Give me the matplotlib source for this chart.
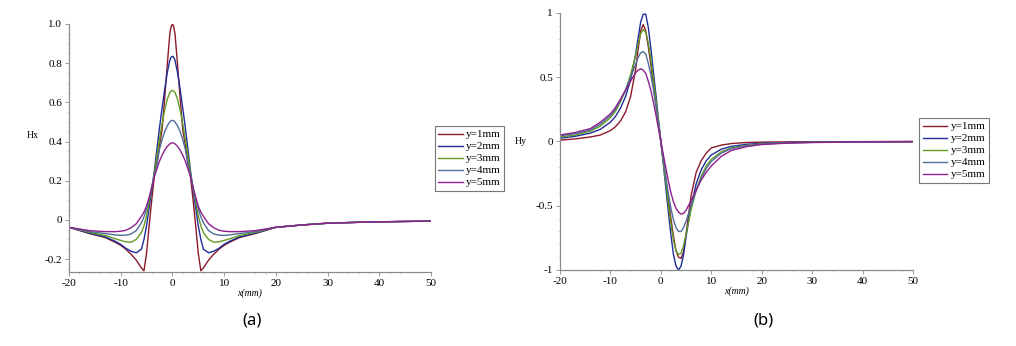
import matplotlib
matplotlib.use("Agg")
import matplotlib.pyplot as plt

# ── Data: Hx (left panel) ─────────────────────────────────────────────────────
X_HX = [-20, -16, -13, -11, -10, -9, -8, -7, -6, -5.5, -5, -4.5, -4, -3.5, -3,
        -2.5, -2, -1.5, -1, -0.5, -0.25, 0, 0.25, 0.5, 1, 1.5, 2, 2.5, 3, 3.5,
        4, 4.5, 5, 5.5, 6, 7, 8, 9, 10, 11, 13, 16, 20, 25, 30, 35, 40, 45, 50]

HX_Y1 = [-0.038, -0.07, -0.09, -0.115, -0.13, -0.15, -0.175, -0.205, -0.245, -0.26,
         -0.17, -0.03, 0.10, 0.22, 0.30, 0.38, 0.46, 0.62, 0.79, 0.95, 0.987, 1.0,
         0.987, 0.95, 0.79, 0.62, 0.46, 0.38, 0.30, 0.22, 0.10, -0.03, -0.17, -0.26,
         -0.245, -0.205, -0.175, -0.15, -0.13, -0.115, -0.09, -0.07, -0.038,
         -0.026, -0.017, -0.013, -0.010, -0.008, -0.006]
HX_Y2 = [-0.038, -0.068, -0.087, -0.11, -0.125, -0.145, -0.16, -0.168, -0.15, -0.10,
         -0.03, 0.06, 0.15, 0.25, 0.36, 0.47, 0.57, 0.665, 0.75, 0.815, 0.83, 0.835,
         0.83, 0.815, 0.75, 0.665, 0.57, 0.47, 0.36, 0.25, 0.15, 0.06, -0.03, -0.10,
         -0.15, -0.168, -0.16, -0.145, -0.125, -0.11, -0.087, -0.068, -0.038,
         -0.026, -0.017, -0.013, -0.010, -0.008, -0.006]
HX_Y3 = [-0.038, -0.064, -0.08, -0.097, -0.105, -0.112, -0.114, -0.10, -0.065, -0.03,
         0.02, 0.09, 0.16, 0.235, 0.33, 0.41, 0.49, 0.56, 0.615, 0.65, 0.658, 0.661,
         0.658, 0.65, 0.615, 0.56, 0.49, 0.41, 0.33, 0.235, 0.16, 0.09, 0.02, -0.03,
         -0.065, -0.10, -0.114, -0.112, -0.105, -0.097, -0.08, -0.064, -0.038,
         -0.026, -0.017, -0.013, -0.010, -0.008, -0.006]
HX_Y4 = [-0.038, -0.06, -0.07, -0.077, -0.079, -0.078, -0.072, -0.055, -0.015, 0.015,
         0.055, 0.11, 0.17, 0.225, 0.28, 0.36, 0.41, 0.45, 0.48, 0.50, 0.506, 0.508,
         0.506, 0.50, 0.48, 0.45, 0.41, 0.36, 0.28, 0.225, 0.17, 0.11, 0.055, 0.015,
         -0.015, -0.055, -0.072, -0.078, -0.079, -0.077, -0.07, -0.06, -0.038,
         -0.026, -0.017, -0.013, -0.010, -0.008, -0.006]
HX_Y5 = [-0.038, -0.055, -0.06, -0.06, -0.058, -0.053, -0.04, -0.02, 0.018, 0.04,
         0.07, 0.115, 0.16, 0.22, 0.26, 0.30, 0.33, 0.355, 0.375, 0.388, 0.392, 0.393,
         0.392, 0.388, 0.375, 0.355, 0.33, 0.30, 0.26, 0.22, 0.16, 0.115, 0.07, 0.04,
         0.018, -0.02, -0.04, -0.053, -0.058, -0.06, -0.06, -0.055, -0.038,
         -0.026, -0.017, -0.013, -0.010, -0.008, -0.006]

# ── Data: Hy (right panel) ────────────────────────────────────────────────────
X_HY = [-20, -17, -14, -12, -10, -9, -8, -7, -6, -5, -4.5, -4, -3.5, -3, -2.5,
        -2, -1.5, -1, -0.5, 0, 0.5, 1, 1.5, 2, 2.5, 3, 3.5, 4, 4.5, 5, 6, 7, 8,
        9, 10, 12, 14, 17, 20, 25, 30, 40, 50]

HY_Y1 = [0.01, 0.02, 0.035, 0.05, 0.085, 0.115, 0.16, 0.23, 0.35, 0.56, 0.72,
         0.86, 0.91, 0.86, 0.74, 0.60, 0.45, 0.30, 0.15, 0.0, -0.15, -0.30,
         -0.45, -0.60, -0.74, -0.85, -0.90, -0.91, -0.86, -0.72, -0.42, -0.24,
         -0.15, -0.09, -0.05, -0.028, -0.016, -0.008, -0.005, -0.003, -0.002,
         -0.001, 0.0]
HY_Y2 = [0.025, 0.04, 0.065, 0.095, 0.15, 0.195, 0.26, 0.35, 0.48, 0.68, 0.81,
         0.93, 0.99, 0.99, 0.89, 0.73, 0.55, 0.37, 0.18, 0.0, -0.18, -0.37,
         -0.55, -0.73, -0.88, -0.97, -1.0, -0.97, -0.88, -0.74, -0.50, -0.33,
         -0.22, -0.15, -0.105, -0.06, -0.038, -0.022, -0.014, -0.008, -0.005,
         -0.002, -0.001]
HY_Y3 = [0.035, 0.05, 0.08, 0.12, 0.185, 0.235, 0.31, 0.40, 0.52, 0.67, 0.76,
         0.84, 0.87, 0.85, 0.77, 0.64, 0.49, 0.33, 0.165, 0.0, -0.165, -0.33,
         -0.49, -0.64, -0.77, -0.85, -0.88, -0.87, -0.81, -0.72, -0.53, -0.38,
         -0.27, -0.19, -0.14, -0.08, -0.05, -0.03, -0.018, -0.01, -0.006,
         -0.003, -0.001]
HY_Y4 = [0.045, 0.06, 0.09, 0.135, 0.20, 0.25, 0.32, 0.40, 0.50, 0.60, 0.655,
         0.69, 0.70, 0.68, 0.61, 0.52, 0.41, 0.28, 0.14, 0.0, -0.14, -0.28,
         -0.41, -0.52, -0.61, -0.67, -0.70, -0.70, -0.67, -0.62, -0.50, -0.38,
         -0.29, -0.21, -0.155, -0.09, -0.056, -0.033, -0.02, -0.011, -0.007,
         -0.003, -0.001]
HY_Y5 = [0.05, 0.07, 0.10, 0.15, 0.215, 0.265, 0.33, 0.40, 0.47, 0.535, 0.555,
         0.565, 0.555, 0.53, 0.47, 0.40, 0.31, 0.21, 0.105, 0.0, -0.105, -0.21,
         -0.31, -0.40, -0.47, -0.52, -0.55, -0.565, -0.56, -0.535, -0.46, -0.38,
         -0.30, -0.24, -0.19, -0.115, -0.07, -0.04, -0.024, -0.013, -0.008,
         -0.004, -0.002]

LABELS = ["y=1mm", "y=2mm", "y=3mm", "y=4mm", "y=5mm"]
COLORS = ["#8c1a2a", "#1f2d9a", "#639a22", "#4f6e98", "#8e1f8c"]

X_TICKS = [-20, -10, 0, 10, 20, 30, 40, 50]
HX_YTICKS = [-0.2, 0, 0.2, 0.4, 0.6, 0.8, 1.0]
HX_YTICK_LABELS = ["-0.2", "0", "0.2", "0.4", "0.6", "0.8", "1.0"]
HY_YTICKS = [-1, -0.5, 0, 0.5, 1]
HY_YTICK_LABELS = ["-1", "-0.5", "0", "0.5", "1"]

SERIF = "Liberation Serif"
AXIS_GREY = "#8a8a8a"


def style_axes(ax):
    for side in ["top", "right"]:
        ax.spines[side].set_visible(False)
    for side in ["left", "bottom"]:
        ax.spines[side].set_color(AXIS_GREY)
        ax.spines[side].set_linewidth(0.9)
    ax.tick_params(axis="both", which="major", length=3, width=0.6,
                   color=AXIS_GREY, labelsize=8, pad=2)
    ax.tick_params(axis="both", which="minor", length=1.5, width=0.4,
                   color="#bbbbbb")
    ax.minorticks_on()
    for lab in ax.get_xticklabels() + ax.get_yticklabels():
        lab.set_fontfamily(SERIF)


def add_legend(handles, anchor):
    leg = fig.legend(handles=handles, loc="upper left", bbox_to_anchor=anchor,
                     prop={"family": SERIF, "size": 8}, handlelength=2.2,
                     handletextpad=0.3, labelspacing=0.2, borderpad=0.3,
                     borderaxespad=0, fancybox=False, framealpha=1)
    leg.get_frame().set_edgecolor("#777777")
    leg.get_frame().set_linewidth(0.8)
    return leg


fig = plt.figure(figsize=(10.16, 3.46), dpi=100)

# ── Left panel: Hx ────────────────────────────────────────────────────────────
ax1 = fig.add_axes([0.0679, 0.2139, 0.3563, 0.7168])
hx_series = [HX_Y1, HX_Y2, HX_Y3, HX_Y4, HX_Y5]
for vals, lab, col in zip(hx_series, LABELS, COLORS):
    ax1.plot(X_HX, vals, color=col, lw=1.0, label=lab)
ax1.set_xlim(-20, 50)
ax1.set_ylim(-0.266, 1.0)
ax1.set_xticks(X_TICKS)
ax1.set_xticklabels([str(t) for t in X_TICKS])
ax1.set_yticks(HX_YTICKS)
ax1.set_yticklabels(HX_YTICK_LABELS)
style_axes(ax1)
ax1.text(-0.10, 0.55, "Hx", transform=ax1.transAxes, fontsize=7,
         family=SERIF, ha="center", va="center")
ax1.set_xlabel("x(mm)", fontsize=7, family=SERIF, style="italic", labelpad=0)
add_legend(ax1.get_lines(), (0.428, 0.635))
fig.text(0.248, 0.075, "(a)", fontsize=12, family="Noto Sans",
         ha="center", va="center")

# ── Right panel: Hy ───────────────────────────────────────────────────────────
ax2 = fig.add_axes([0.5512, 0.2197, 0.3474, 0.7428])
hy_series = [HY_Y1, HY_Y2, HY_Y3, HY_Y4, HY_Y5]
for vals, lab, col in zip(hy_series, LABELS, COLORS):
    ax2.plot(X_HY, vals, color=col, lw=1.0, label=lab)
ax2.set_xlim(-20, 50)
ax2.set_ylim(-1.0, 1.0)
ax2.set_xticks(X_TICKS)
ax2.set_xticklabels([str(t) for t in X_TICKS])
ax2.set_yticks(HY_YTICKS)
ax2.set_yticklabels(HY_YTICK_LABELS)
style_axes(ax2)
ax2.text(-0.112, 0.5, "Hy", transform=ax2.transAxes, fontsize=7,
         family=SERIF, ha="center", va="center")
ax2.set_xlabel("x(mm)", fontsize=7, family=SERIF, style="italic", labelpad=0)
add_legend(ax2.get_lines(), (0.905, 0.658))
fig.text(0.751, 0.075, "(b)", fontsize=12, family="Noto Sans",
         ha="center", va="center")

fig.savefig("out.png", dpi=100)
